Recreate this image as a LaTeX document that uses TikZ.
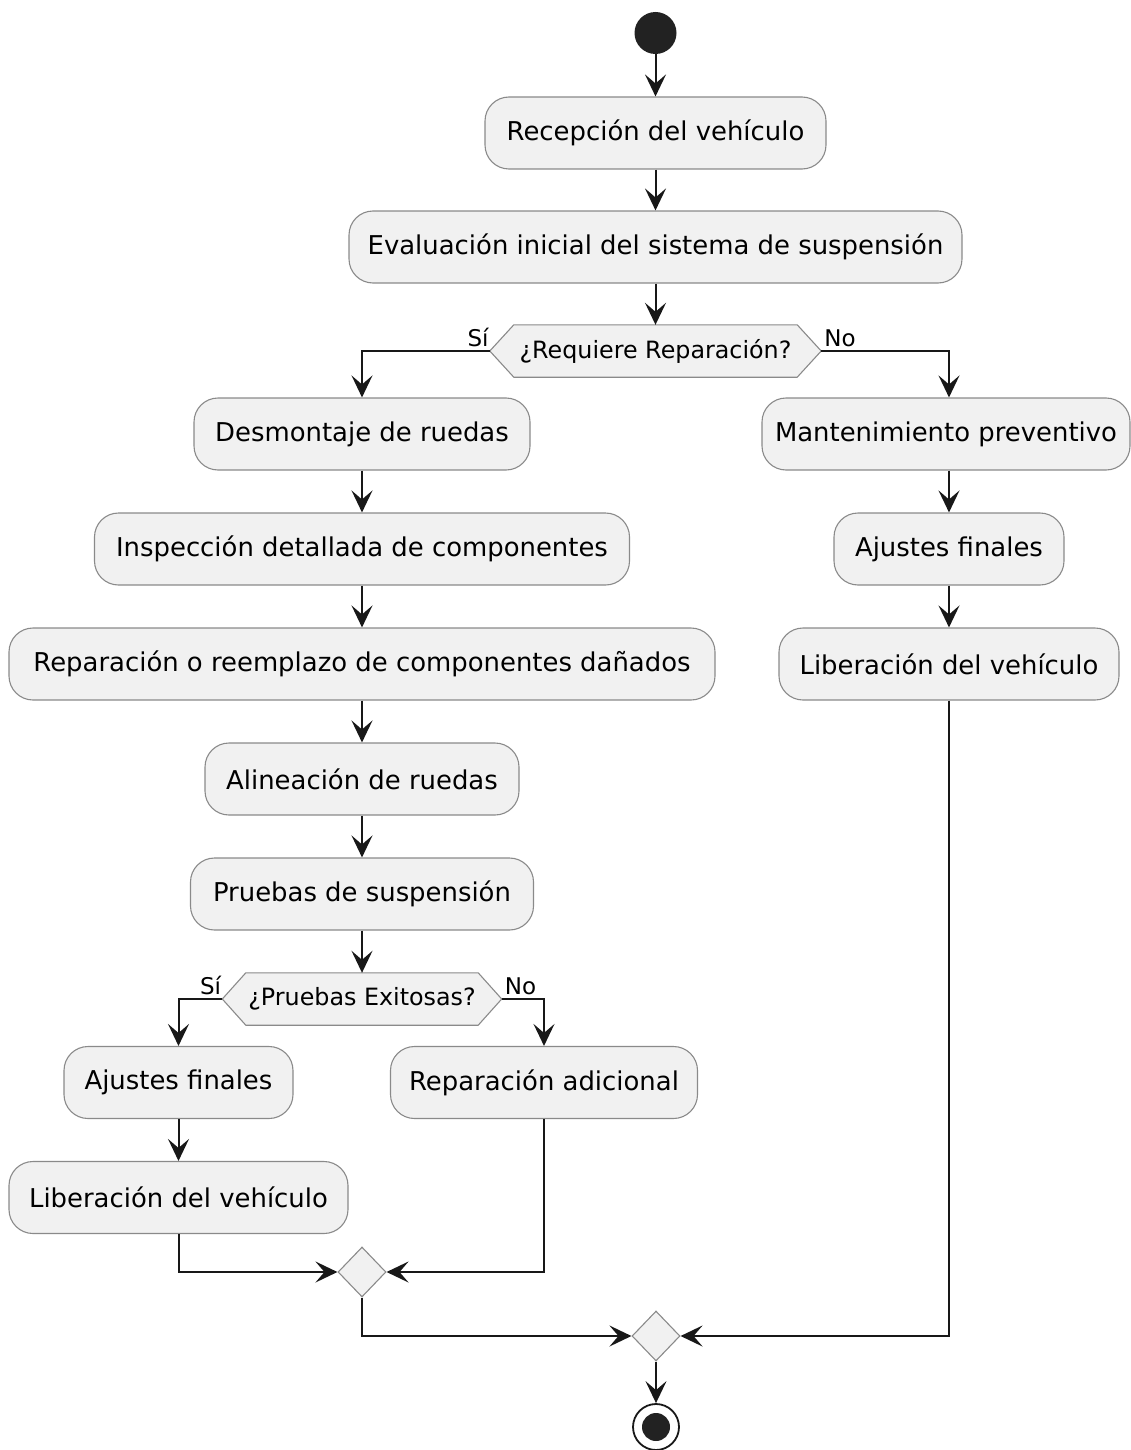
\documentclass[tikz,border=0pt]{standalone}
\usepackage{fontspec}
\setmainfont{DejaVu Sans}
\usetikzlibrary{arrows.meta,backgrounds,calc,shapes.geometric}
\definecolor{boxfill}{HTML}{F1F1F1}
\definecolor{boxline}{HTML}{8A8A8A}
\definecolor{ink}{HTML}{181818}
\definecolor{dot}{HTML}{222222}
\begin{document}
\begin{tikzpicture}[x=1pt,y=-1pt,
  act/.style={draw=boxline, line width=1.1pt, fill=boxfill, rounded corners=24pt,
    minimum height=72pt, inner sep=0pt, font=\fontsize{25.9pt}{30pt}\selectfont, text=black},
  dec/.style={minimum height=52pt, inner sep=0pt, font=\fontsize{23.8pt}{28pt}\selectfont, text=black},
  hexbox/.style={draw=boxline, line width=1.1pt, fill=boxfill},
  merge/.style={diamond, draw=boxline, line width=1.1pt, fill=boxfill, inner sep=0pt,
    minimum width=48pt, minimum height=50pt},
  lbl/.style={inner sep=0pt, font=\fontsize{23pt}{26pt}\selectfont, text=black},
  arr/.style={draw=ink, line width=2pt, -{Stealth[length=22pt,width=21pt,inset=9pt]}},
  conn/.style={draw=ink, line width=2pt}
]
\useasboundingbox (0,0) rectangle (1131,1450);

% start
\node[circle, fill=dot, minimum size=42pt, inner sep=0pt] (start) at (655.5,33) {};

\node[act, minimum width=341pt] (n1) at (655.5,133) {Recepción del vehículo};
\node[act, minimum width=613pt] (n2) at (655.5,247) {Evaluación inicial del sistema de suspensión};

% decision 1
\node[dec, minimum width=283pt] (d1) at (655.5,351) {¿Requiere Reparación?};
\coordinate (d1w) at ($(d1.west)+(-24,0)$);
\coordinate (d1e) at ($(d1.east)+(24,0)$);

% left column
\node[act, minimum width=336pt] (desm) at (362,434) {Desmontaje de ruedas};
\node[act, minimum width=535pt] (insp) at (362,549) {Inspección detallada de componentes};
\node[act, minimum width=706pt] (rep) at (362,664) {Reparación o reemplazo de componentes dañados};
\node[act, minimum width=314pt] (alin) at (362,779) {Alineación de ruedas};
\node[act, minimum width=343pt] (prue) at (362,894) {Pruebas de suspensión};

% decision 2
\node[dec, minimum width=232pt] (d2) at (362,999) {¿Pruebas Exitosas?};
\coordinate (d2w) at ($(d2.west)+(-23.5,0)$);
\coordinate (d2e) at ($(d2.east)+(23.5,0)$);

\node[act, minimum width=229pt] (ajL) at (178.5,1082.5) {Ajustes finales};
\node[act, minimum width=339pt] (libL) at (178.5,1197.5) {Liberación del vehículo};
\node[act, minimum width=307pt] (repA) at (544,1082.5) {Reparación adicional};

% right column
\node[act, minimum width=368pt] (mant) at (946,434) {Mantenimiento preventivo};
\node[act, minimum width=230pt] (ajR) at (949,549) {Ajustes finales};
\node[act, minimum width=340pt] (libR) at (949,664) {Liberación del vehículo};

% merges
\node[merge] (m1) at (362,1272) {};
\node[merge] (m2) at (656,1336) {};

% end
\node[circle, draw=ink, line width=1.8pt, fill=white, minimum size=46pt, inner sep=0pt] (end) at (656,1427) {};
\fill[dot] (end.center) circle (14);

% hexagons behind text
\begin{scope}[on background layer]
  \path[hexbox] (d1.north west) -- (d1.north east) -- (d1e) -- (d1.south east)
    -- (d1.south west) -- (d1w) -- cycle;
  \path[hexbox] (d2.north west) -- (d2.north east) -- (d2e) -- (d2.south east)
    -- (d2.south west) -- (d2w) -- cycle;
\end{scope}

% labels
\node[lbl, anchor=south east] at ($(d1w)+(-1,-4)$) {Sí};
\node[lbl, anchor=south west] at ($(d1e)+(3,-4)$) {No};
\node[lbl, anchor=south east] at ($(d2w)+(-1,-4)$) {Sí};
\node[lbl, anchor=south west] at ($(d2e)+(3,-4)$) {No};

% connectors
\draw[arr] (start) -- (n1);
\draw[arr] (n1) -- (n2);
\draw[arr] (n2) -- (d1.north);
\draw[arr] (d1w) -| (desm.north);
\draw[arr] (d1e) -| (ajR.north |- mant.north);
\draw[arr] (desm) -- (insp);
\draw[arr] (insp) -- (rep);
\draw[arr] (rep) -- (alin);
\draw[arr] (alin) -- (prue);
\draw[arr] (prue) -- (d2.north);
\draw[arr] (d2w) -| (ajL.north);
\draw[arr] (d2e) -| (repA.north);
\draw[arr] (ajL) -- (libL);
\draw[arr] (libL.south) |- (m1.west);
\draw[arr] (repA.south) |- (m1.east);
\draw[arr] (ajR.north |- mant.south) -- (ajR.north);
\draw[arr] (ajR) -- (libR);
\draw[arr] (m1.south) |- (m2.west);
\draw[arr] (libR.south) |- (m2.east);
\draw[arr] (m2.south) -- (end.north);
\end{tikzpicture}
\end{document}
